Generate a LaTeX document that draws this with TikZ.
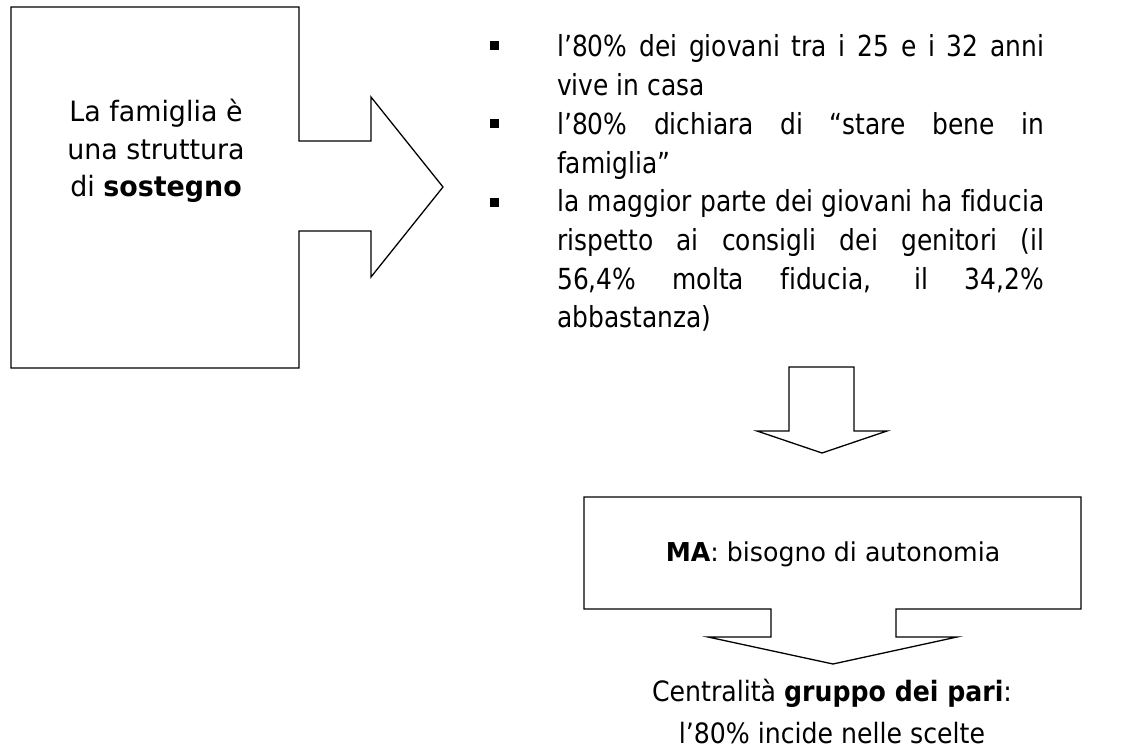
\documentclass[tikz,border=0pt]{standalone}
\usepackage{fontspec}
\setmainfont{DejaVu Sans}[Ligatures=NoCommon]
\newfontfamily\leftfont[FakeStretch=0.96,Ligatures=NoCommon]{DejaVu Sans}
\newfontfamily\narrowfont[FakeStretch=0.86,Ligatures=NoCommon]{DejaVu Sans}
\newfontfamily\mafont[FakeStretch=0.97,Ligatures=NoCommon]{DejaVu Sans}
\newfontfamily\botfont[FakeStretch=0.9,Ligatures=NoCommon]{DejaVu Sans}
\tikzset{
  shapeline/.style={draw=black, line width=1.3pt, line join=miter},
  lefttext/.style={inner sep=0pt, anchor=base, font=\leftfont\fontsize{28}{34}\selectfont},
  bullettext/.style={inner sep=0pt, anchor=base west, font=\narrowfont\fontsize{29}{35}\selectfont},
  matext/.style={inner sep=0pt, anchor=base, font=\mafont\fontsize{26}{32}\selectfont},
  bottext/.style={inner sep=0pt, anchor=base, font=\botfont\fontsize{28}{34}\selectfont},
  bulletsq/.style={fill=black, draw=none, inner sep=0pt, minimum size=9pt, rectangle}
}
\newcommand{\jline}[1]{\makebox[487pt][s]{#1}}
\begin{document}
\begin{tikzpicture}[x=1pt, y=-1pt]
\useasboundingbox (0,0) rectangle (1141,749);

% left box with right arrow
\draw[shapeline] (11,7) -- (299,7) -- (299,141) -- (371,141) -- (371,97) -- (443,187)
  -- (371,277) -- (371,231) -- (299,231) -- (299,368) -- (11,368) -- cycle;
\node[lefttext] (l1) at (156,121.7) {La famiglia è};
\node[lefttext] (l2) at (156,159.2) {una struttura};
\node[lefttext] (l3) at (156,196.7) {di \textbf{sostegno}};

% bullets
\node[bulletsq] (b1) at (494.5,45.5) {};
\node[bulletsq] (b2) at (494.5,124) {};
\node[bulletsq] (b3) at (494.5,202) {};

\node[bullettext] (t1) at (557,57.0) {\jline{l’80\% dei giovani tra i 25 e i 32 anni}};
\node[bullettext] (t2) at (557,95.7) {vive in casa};
\node[bullettext] (t3) at (557,134.4) {\jline{l’80\% dichiara di “stare bene in}};
\node[bullettext] (t4) at (557,173.1) {famiglia”};
\node[bullettext] (t5) at (557,211.8) {\jline{la maggior parte dei giovani ha fiducia}};
\node[bullettext] (t6) at (557,250.5) {\jline{rispetto ai consigli dei genitori (il}};
\node[bullettext] (t7) at (557,289.2) {\jline{56,4\% molta fiducia, il 34,2\%}};
\node[bullettext] (t8) at (557,327.9) {abbastanza)};

% down arrow
\draw[shapeline] (789,367) -- (854,367) -- (854,431) -- (887,431) -- (822,453)
  -- (757,431) -- (789,431) -- cycle;

% MA box with down arrow
\draw[shapeline] (584,497) -- (1081,497) -- (1081,609) -- (896,609) -- (896,637)
  -- (957,637) -- (833,664) -- (708,637) -- (771,637) -- (771,609) -- (584,609) -- cycle;
\node[matext] (ma) at (833,561) {\textbf{MA}: bisogno di autonomia};

% bottom text
\node[bottext] (c1) at (832,701) {Centralità \textbf{gruppo dei pari}:};
\node[bottext] (c2) at (832,743) {l’80\% incide nelle scelte};
\end{tikzpicture}
\end{document}
